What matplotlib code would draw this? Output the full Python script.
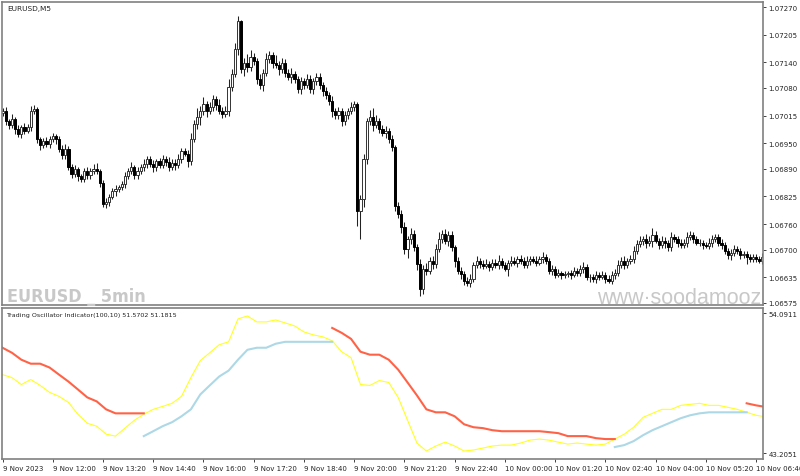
import numpy as np
import matplotlib.pyplot as plt

nan = np.nan

# EURUSD M5 closes, one per bar (10:40 on 9 Nov 2023 onwards)
closes = [
    1.07026, 1.07002, 1.06993, 1.07007, 1.06984, 1.06972, 1.06988, 1.06979, 1.06988, 1.07026,
    1.07030, 1.06960, 1.06946, 1.06955, 1.06948, 1.06960, 1.06967, 1.06960, 1.06937, 1.06922,
    1.06937, 1.06894, 1.06878, 1.06890, 1.06873, 1.06866, 1.06885, 1.06875, 1.06885, 1.06890,
    1.06885, 1.06857, 1.06807, 1.06812, 1.06824, 1.06838, 1.06843, 1.06847, 1.06854, 1.06873,
    1.06885, 1.06894, 1.06875, 1.06885, 1.06894, 1.06901, 1.06913, 1.06901, 1.06894, 1.06908,
    1.06899, 1.06913, 1.06906, 1.06894, 1.06904, 1.06899, 1.06913, 1.06932, 1.06925, 1.06908,
    1.06960, 1.06995, 1.07012, 1.07026, 1.07042, 1.07026, 1.07035, 1.07054, 1.07040, 1.07026,
    1.07019, 1.07026, 1.07082, 1.07113, 1.07171, 1.07237, 1.07124, 1.07139, 1.07129, 1.07153,
    1.07143, 1.07101, 1.07087, 1.07115, 1.07148, 1.07157, 1.07139, 1.07134, 1.07124, 1.07139,
    1.07115, 1.07106, 1.07113, 1.07101, 1.07077, 1.07096, 1.07087, 1.07101, 1.07077, 1.07096,
    1.07106, 1.07087, 1.07073, 1.07063, 1.07049, 1.07026, 1.07016, 1.07026, 1.07002, 1.07016,
    1.07026, 1.07035, 1.07042, 1.06791, 1.06819, 1.06913, 1.07002, 1.07012, 1.06993, 1.07002,
    1.06984, 1.06974, 1.06979, 1.06960, 1.06941, 1.06803, 1.06784, 1.06753, 1.06702, 1.06725,
    1.06737, 1.06706, 1.06667, 1.06608, 1.06655, 1.06650, 1.06674, 1.06667, 1.06702, 1.06725,
    1.06737, 1.06721, 1.06735, 1.06706, 1.06674, 1.06650, 1.06643, 1.06627, 1.06622, 1.06631,
    1.06664, 1.06674, 1.06667, 1.06662, 1.06667, 1.06660, 1.06669, 1.06664, 1.06674, 1.06664,
    1.06655, 1.06669, 1.06674, 1.06669, 1.06678, 1.06674, 1.06664, 1.06674, 1.06678, 1.06674,
    1.06669, 1.06678, 1.06683, 1.06674, 1.06650, 1.06655, 1.06641, 1.06645, 1.06641, 1.06643,
    1.06645, 1.06641, 1.06650, 1.06645, 1.06655, 1.06660, 1.06636, 1.06636, 1.06631, 1.06641,
    1.06636, 1.06641, 1.06631, 1.06627, 1.06641, 1.06645, 1.06664, 1.06674, 1.06664, 1.06674,
    1.06678, 1.06697, 1.06714, 1.06721, 1.06725, 1.06716, 1.06721, 1.06735, 1.06721, 1.06711,
    1.06721, 1.06716, 1.06706, 1.06730, 1.06725, 1.06716, 1.06711, 1.06716, 1.06730, 1.06735,
    1.06725, 1.06716, 1.06716, 1.06711, 1.06709, 1.06716, 1.06725, 1.06730, 1.06716, 1.06711,
    1.06697, 1.06688, 1.06692, 1.06702, 1.06697, 1.06688, 1.06690, 1.06683, 1.06678, 1.06683,
    1.06678, 1.06674, 1.06683,
]
first_open = 1.07020

# wick lengths above / below the body, in points (0.00001)
wick_up = [
    8, 10, 6, 12, 5, 8, 6, 10, 8, 12,
    10, 6, 5, 8, 10, 6, 8, 5, 6, 8,
    12, 6, 8, 10, 5, 6, 8, 10, 6, 12,
    14, 4, 6, 10, 8, 6, 10, 6, 8, 10,
    8, 12, 6, 10, 8, 12, 6, 8, 10, 6,
    8, 10, 6, 12, 8, 10, 12, 8, 6, 10,
    14, 10, 20, 12, 16, 8, 12, 10, 8, 14,
    10, 12, 18, 12, 14, 12, 3, 12, 20, 16,
    10, 8, 12, 10, 14, 10, 8, 18, 10, 12,
    8, 10, 14, 8, 6, 10, 8, 12, 10, 8,
    10, 8, 6, 10, 8, 12, 6, 10, 8, 10,
    8, 12, 8, 6, 10, 12, 8, 16, 20, 14,
    8, 10, 12, 8, 10, 6, 8, 10, 12, 8,
    14, 10, 8, 12, 10, 14, 8, 10, 12, 16,
    10, 12, 8, 10, 6, 8, 10, 6, 8, 12,
    8, 10, 6, 8, 10, 6, 8, 10, 14, 6,
    8, 6, 10, 8, 6, 10, 8, 12, 6, 8,
    10, 6, 12, 8, 6, 8, 6, 10, 6, 8,
    6, 8, 10, 6, 8, 10, 6, 8, 6, 8,
    6, 8, 6, 10, 8, 10, 12, 8, 10, 6,
    10, 12, 8, 10, 8, 12, 10, 16, 8, 6,
    10, 8, 6, 12, 8, 6, 8, 10, 12, 8,
    6, 8, 10, 6, 8, 12, 10, 8, 6, 10,
    8, 6, 10, 8, 6, 8, 6, 8, 6, 8,
    6, 8, 10,
]
wick_dn = [
    6, 8, 10, 6, 12, 8, 10, 8, 6, 10,
    8, 10, 12, 8, 6, 10, 8, 12, 8, 10,
    8, 6, 10, 8, 12, 6, 8, 10, 8, 6,
    8, 10, 6, 8, 10, 6, 12, 8, 6, 10,
    8, 6, 10, 8, 6, 10, 8, 6, 12, 10,
    6, 8, 10, 8, 6, 12, 8, 10, 6, 14,
    10, 8, 12, 20, 10, 14, 8, 10, 12, 8,
    10, 8, 12, 10, 8, 14, 10, 16, 12, 10,
    8, 12, 10, 14, 8, 10, 12, 8, 14, 10,
    10, 8, 14, 10, 8, 12, 10, 8, 10, 12,
    8, 10, 12, 8, 10, 14, 8, 10, 12, 8,
    10, 8, 10, 35, 66, 18, 12, 10, 14, 8,
    10, 8, 12, 10, 8, 12, 10, 14, 12, 22,
    12, 10, 14, 17, 12, 10, 8, 12, 10, 8,
    10, 8, 12, 10, 14, 8, 12, 10, 8, 10,
    8, 6, 10, 8, 6, 10, 8, 6, 10, 8,
    6, 16, 8, 6, 10, 8, 6, 8, 10, 6,
    8, 6, 10, 8, 6, 10, 8, 6, 10, 8,
    8, 10, 6, 8, 6, 10, 8, 12, 6, 10,
    8, 6, 10, 6, 8, 10, 6, 8, 10, 6,
    8, 10, 6, 8, 10, 12, 8, 14, 6, 10,
    8, 12, 10, 8, 6, 10, 8, 6, 10, 8,
    10, 6, 8, 10, 6, 8, 10, 6, 8, 10,
    8, 10, 12, 6, 8, 10, 8, 16, 6, 8,
    8, 6, 8,
]

price_ticks = [1.07270, 1.07205, 1.07140, 1.07080, 1.07015, 1.06950,
               1.06890, 1.06825, 1.06760, 1.06700, 1.06635, 1.06575]

time_labels = ['9 Nov 2023', '9 Nov 12:00', '9 Nov 13:20', '9 Nov 14:40',
               '9 Nov 16:00', '9 Nov 17:20', '9 Nov 18:40', '9 Nov 20:00',
               '9 Nov 21:20', '9 Nov 22:40', '10 Nov 00:00', '10 Nov 01:20',
               '10 Nov 02:40', '10 Nov 04:00', '10 Nov 05:20', '10 Nov 06:40']

# oscillator, read every 3rd bar
osc_bars = list(range(0, 241, 3)) + [242]
osc_main = [
    49.30, 49.07, 48.53, 48.92, 48.46, 47.92, 47.61, 47.14, 46.22, 45.52,
    45.29, 44.67, 44.52, 45.14, 45.75, 46.22, 46.60, 46.83, 47.07, 47.61,
    49.07, 50.39, 51.00, 51.62, 51.85, 53.63, 53.86, 53.40, 53.40, 53.55,
    53.32, 53.09, 52.62, 52.39, 52.24, 51.93, 51.08, 50.62, 48.53, 48.46,
    48.84, 48.69, 47.53, 45.75, 43.98, 43.36, 43.75, 44.05, 43.75, 43.36,
    43.44, 43.59, 43.75, 43.82, 43.82, 43.98, 44.21, 44.29, 44.21, 44.05,
    43.90, 43.98, 43.90, 43.82, 43.90, 44.29, 44.67, 45.21, 45.98, 46.29,
    46.60, 46.60, 46.91, 46.99, 47.07, 46.91, 46.91, 46.76, 46.60, 46.37,
    46.14, 46.06,
]
osc_down = [
    51.39, 51.00, 50.46, 50.15, 50.15, 49.85, 49.30, 48.76, 48.15, 47.53,
    47.22, 46.60, 46.29, 46.29, 46.29, 46.29,
    nan, nan, nan, nan, nan, nan, nan, nan, nan, nan,
    nan, nan, nan, nan, nan, nan, nan, nan, nan,
    52.93, 52.55, 52.08, 51.08, 50.85, 50.85, 50.46, 49.69, 48.69, 47.68,
    46.60, 46.37, 46.37, 46.06, 45.44, 45.21, 45.14, 44.98, 44.90, 44.90,
    44.90, 44.90, 44.90, 44.83, 44.75, 44.52, 44.52, 44.52, 44.36, 44.29,
    44.29,
    nan, nan, nan, nan, nan, nan, nan, nan, nan, nan, nan, nan, nan,
    47.07, 46.91, 46.83,
]
osc_up = [
    nan, nan, nan, nan, nan, nan, nan, nan, nan, nan, nan, nan, nan, nan, nan,
    44.52, 44.90, 45.29, 45.60, 46.06, 46.60, 47.76, 48.46, 49.15, 49.61,
    50.46, 51.23, 51.39, 51.39, 51.70, 51.85, 51.85, 51.85, 51.85, 51.85,
    51.85,
    nan, nan, nan, nan, nan, nan, nan, nan, nan, nan,
    nan, nan, nan, nan, nan, nan, nan, nan, nan, nan,
    nan, nan, nan, nan, nan, nan, nan, nan, nan,
    43.67, 43.82, 44.13, 44.59, 44.98, 45.29, 45.60, 45.91, 46.14, 46.29,
    46.37, 46.37, 46.37, 46.37, 46.37,
    nan, nan,
]

frame = '#808080'

fig = plt.figure(figsize=(8, 4.77), dpi=100)
ax = fig.add_axes([2/800, 1 - 306/477, 761/800, 303/477])
ax2 = fig.add_axes([2/800, 1 - 460/477, 761/800, 151/477])

# candles
c = np.array(closes)
o = np.array([first_open] + closes[:-1])
hi = np.maximum(o, c) + np.array(wick_up) * 1e-5
lo = np.minimum(o, c) - np.array(wick_dn) * 1e-5
idx = np.arange(len(c))
up = c >= o

ax.vlines(idx, lo, hi, color='#222222', lw=0.75, zorder=1)
ax.bar(idx[up], (c - o)[up], bottom=o[up], width=0.7,
       color='white', edgecolor='#333333', lw=0.7, zorder=2)
ax.bar(idx[~up], (o - c)[~up], bottom=c[~up], width=0.7,
       color='black', edgecolor='black', lw=0.7, zorder=2)

ax.set_xlim(-0.16, 242.2)
ax.set_ylim(1.06570, 1.07282)
ax.set_xticks([])
ax.yaxis.tick_right()
ax.set_yticks(price_ticks)
ax.set_yticklabels([f'{v:.5f}' for v in price_ticks])
ax.tick_params(axis='y', length=2.5, width=0.6, pad=1.5, labelsize=5,
               colors='#222222')

# oscillator panel
ax2.plot(osc_bars, osc_main, color='#ffff22', lw=0.8)
ax2.plot(osc_bars, osc_down, color='#ff6347', lw=1.5)
ax2.plot(osc_bars, osc_up, color='#add8e6', lw=1.5)

ax2.set_xlim(-0.16, 242.2)
ax2.set_ylim(42.74, 54.48)
ax2.yaxis.tick_right()
ax2.set_yticks([54.0911, 43.2051])
ax2.set_yticklabels(['54.0911', '43.2051'])
ax2.set_xticks(np.arange(0, 241, 16))
ax2.set_xticklabels(time_labels, ha='left')
ax2.tick_params(axis='both', length=2.5, width=0.6, pad=1.5, labelsize=5,
                colors='#222222')

for a in (ax, ax2):
    for s in a.spines.values():
        s.set_color(frame)
        s.set_linewidth(1.2)

fig.text(7/800, 1 - 9/477, 'EURUSD,M5', fontsize=5.3, va='center',
         color='#222222')
fig.text(7/800, 1 - 302/477, 'EURUSD _ 5min', fontsize=12.9,
         fontweight='bold', fontstretch='condensed', color='#c8c8c8',
         va='baseline', family=['DejaVu Sans'])
fig.text(597/800, 1 - 304/477, 'www·soodamooz', fontsize=15.5,
         color='#c8c8c8', va='baseline', family=['Liberation Sans', 'DejaVu Sans'])
fig.text(6/800, 1 - 316/477,
         'Trading Oscillator Indicator(100,10) 51.5702 51.1815',
         fontsize=4.6, va='center', color='#222222')

fig.savefig('out.png', dpi=100)
